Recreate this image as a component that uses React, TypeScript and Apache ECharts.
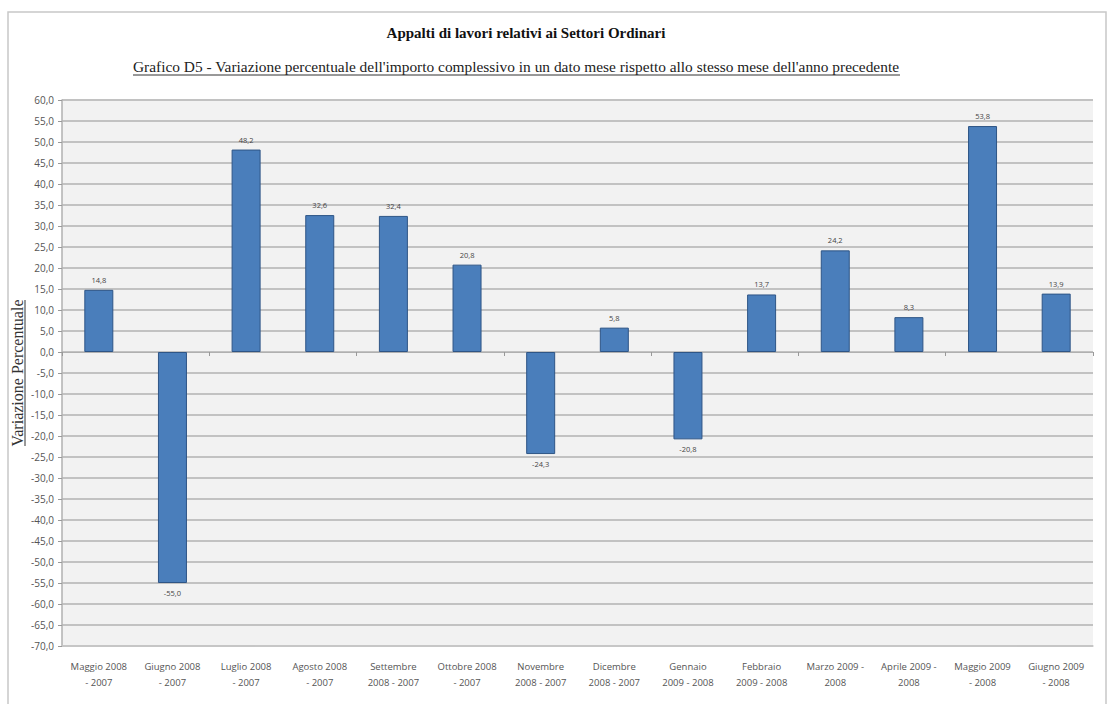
import React, { useEffect, useRef } from "react";
import * as echarts from "echarts";

const categories = [
  "Maggio 2008\n- 2007",
  "Giugno 2008\n- 2007",
  "Luglio 2008\n- 2007",
  "Agosto 2008\n- 2007",
  "Settembre\n2008 - 2007",
  "Ottobre 2008\n- 2007",
  "Novembre\n2008 - 2007",
  "Dicembre\n2008 - 2007",
  "Gennaio\n2009 - 2008",
  "Febbraio\n2009 - 2008",
  "Marzo 2009 -\n2008",
  "Aprile 2009 -\n2008",
  "Maggio 2009\n- 2008",
  "Giugno 2009\n- 2008",
];

const values = [14.8, -55.0, 48.2, 32.6, 32.4, 20.8, -24.3, 5.8, -20.8, 13.7, 24.2, 8.3, 53.8, 13.9];

const title = "Appalti di lavori relativi ai Settori Ordinari";
const subtitle =
  "Grafico D5 - Variazione percentuale dell'importo complessivo in un dato mese rispetto allo stesso mese dell'anno precedente";
const yName = "Variazione Percentuale";

const fmt = (v: number) => v.toFixed(1).replace(".", ",");

export default function App() {
  const ref = useRef<HTMLDivElement>(null);
  useEffect(() => {
    if (!ref.current) return;
    const chart = echarts.init(ref.current, null, { renderer: "svg" });
    const serif = "Liberation Serif";
    const sans = "Open Sans";
    chart.setOption({
      animation: false,
      backgroundColor: "#ffffff",
      graphic: [
        {
          type: "rect",
          shape: { x: 8, y: 12, width: 1098, height: 700 },
          style: { fill: "none", stroke: "#c8c8c8", lineWidth: 1.5 },
          z: -1,
        },
        {
          type: "rect",
          shape: { x: 62, y: 100, width: 1031, height: 546 },
          style: { fill: "#f2f2f2" },
          z: -1,
        },
        {
          type: "text",
          x: 526,
          y: 33,
          style: {
            text: title,
            fontSize: 15,
            fontWeight: "bold",
            fontFamily: serif,
            fill: "#111",
            align: "center",
            verticalAlign: "middle",
          },
        },
        {
          type: "text",
          x: 516,
          y: 66,
          style: {
            text: subtitle,
            fontSize: 15.4,
            fontFamily: serif,
            fill: "#222",
            align: "center",
            verticalAlign: "middle",
          },
        },
        {
          type: "line",
          shape: { x1: 133, y1: 75, x2: 900, y2: 75 },
          style: { stroke: "#333", lineWidth: 1 },
        },
        {
          type: "text",
          x: 17,
          y: 373,
          rotation: Math.PI / 2,
          style: {
            text: yName,
            fontSize: 16,
            fontFamily: serif,
            fill: "#333",
            align: "center",
            verticalAlign: "middle",
          },
        },
        {
          type: "line",
          shape: { x1: 25, y1: 300, x2: 25, y2: 446 },
          style: { stroke: "#333", lineWidth: 1 },
        },
      ],
      grid: { left: 62, right: 20, top: 100, bottom: 58, containLabel: false },
      xAxis: [
        {
          type: "category",
          data: categories,
          position: "bottom",
          axisLine: { show: true, onZero: false, lineStyle: { color: "#c8c8c8", width: 1.5 } },
          axisTick: { show: false },
          axisLabel: {
            interval: 0,
            color: "#555",
            fontSize: 9.5,
            fontFamily: sans,
            lineHeight: 16,
            margin: 12,
          },
        },
        {
          type: "category",
          data: categories,
          position: "bottom",
          axisLine: { show: true, onZero: true, lineStyle: { color: "#b0b0b0", width: 1 } },
          axisTick: { show: true, length: 4, inside: false, lineStyle: { color: "#999" } },
          axisLabel: { show: false },
        },
      ],
      yAxis: {
        type: "value",
        min: -70,
        max: 60,
        interval: 5,
        axisLine: { show: true, lineStyle: { color: "#b0b0b0", width: 1.5 } },
        axisTick: { show: true, length: 4, lineStyle: { color: "#999" } },
        axisLabel: {
          color: "#555",
          fontSize: 10,
          fontFamily: sans,
          margin: 8,
          formatter: (v: number) => fmt(v),
        },
        splitLine: { show: true, lineStyle: { color: "#c2c2c2", width: 2 } },
      },
      series: [
        {
          type: "bar",
          xAxisIndex: 0,
          barWidth: 29,
          data: values.map((v) => ({
            value: v,
            label: { position: v < 0 ? "bottom" : "top" },
          })),
          itemStyle: { color: "#4a7ebb", borderColor: "#2e5586", borderWidth: 1 },
          label: {
            show: true,
            fontSize: 7.5,
            color: "#444",
            fontFamily: sans,
            distance: 6,
            formatter: (p: any) => fmt(p.value),
          },
        },
      ],
    });
    return () => chart.dispose();
  }, []);
  return (
    <div
      ref={ref}
      style={{ position: "fixed", left: 0, top: 0, width: 1113, height: 704 }}
    />
  );
}
